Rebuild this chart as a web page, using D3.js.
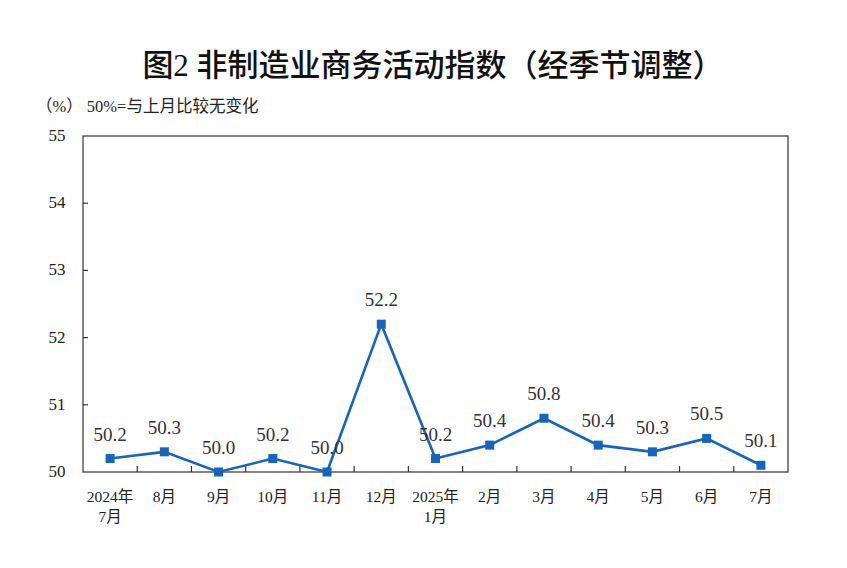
<!DOCTYPE html>
<html lang="zh">
<head>
    <meta charset="UTF-8">
    <title>非制造业商务活动指数</title>
    <script src="https://d3js.org/d3.v7.min.js"></script>
    <style>
        body { margin: 0; background: #fff; }
        .title { font-family: "Liberation Serif", "Noto Sans CJK SC", sans-serif; font-weight: 500; font-size: 31px; fill: #111; }
        .tick-label { font-family: "Liberation Serif", "Noto Sans CJK SC", serif; font-size: 15.5px; fill: #222; }
        .value { font-family: "Liberation Serif", serif; font-size: 19px; fill: #333; }
    </style>
</head>
<body>
<div id="fig"></div>
<script>
    let months = ["2024年\n7月", "8月", "9月", "10月", "11月", "12月", "2025年\n1月", "2月", "3月", "4月", "5月", "6月", "7月"]
    let values = [50.2, 50.3, 50.0, 50.2, 50.0, 52.2, 50.2, 50.4, 50.8, 50.4, 50.3, 50.5, 50.1]
    let yTicks = [50, 51, 52, 53, 54, 55]

    let w = 847, h = 568
    let margin = {left: 83, right: 59, top: 136, bottom: 96}
    let color = "#1565c0"

    let svg = d3.select("#fig").append("svg")
        .attr("width", w).attr("height", h)

    svg.append("text").attr("class", "title")
        .attr("x", 433).attr("y", 76)
        .attr("text-anchor", "middle")
        .text("图2  非制造业商务活动指数（经季节调整）")

    svg.append("text").attr("class", "tick-label")
        .attr("x", 36).attr("y", 112)
        .style("font-size", "16.5px")
        .text("（%）  50%=与上月比较无变化")

    let x = d3.scaleBand().domain(months).range([margin.left, w - margin.right])
    let y = d3.scaleLinear().domain([50, 55]).range([h - margin.bottom, margin.top])

    // frame
    svg.append("rect")
        .attr("x", margin.left).attr("y", margin.top)
        .attr("width", w - margin.left - margin.right)
        .attr("height", h - margin.top - margin.bottom)
        .attr("fill", "none").attr("stroke", "#333").attr("stroke-width", 1.2)

    // y ticks, pointing right
    svg.append("g").selectAll("line").data(yTicks.slice(1, -1)).enter().append("line")
        .attr("x1", margin.left).attr("x2", margin.left + 5)
        .attr("y1", function (d) { return y(d) }).attr("y2", function (d) { return y(d) })
        .attr("stroke", "#333").attr("stroke-width", 1.2)

    // x ticks between categories, pointing up
    let xAxis = svg.append("g")
    months.slice(1).forEach(function (m) {
        xAxis.append("line")
            .attr("x1", x(m)).attr("x2", x(m))
            .attr("y1", y(50)).attr("y2", y(50) - 6)
            .attr("stroke", "#333").attr("stroke-width", 1.2)
    })
    months.forEach(function (m) {
        let lines = m.split("\n")
        let t = xAxis.append("text").attr("class", "tick-label")
            .attr("text-anchor", "middle")
            .attr("x", x(m) + x.bandwidth() / 2)
            .attr("y", y(50) + 30)
        lines.forEach(function (s, i) {
            t.append("tspan").attr("x", x(m) + x.bandwidth() / 2)
                .attr("dy", i === 0 ? 0 : 20).text(s)
        })
    })

    // y tick labels
    svg.append("g").selectAll("text").data(yTicks).enter().append("text")
        .attr("class", "tick-label")
        .style("font-size", "17px")
        .attr("x", 57).attr("y", function (d) { return y(d) + 5 })
        .attr("text-anchor", "middle")
        .text(function (d) { return d })

    let cx = function (d, i) { return x(months[i]) + x.bandwidth() / 2 }

    svg.append("path").datum(values)
        .attr("fill", "none").attr("stroke", color).attr("stroke-width", 2.6)
        .attr("d", d3.line().x(cx).y(function (d) { return y(d) }))

    svg.selectAll(".marker").data(values).enter().append("rect")
        .attr("class", "marker")
        .attr("x", function (d, i) { return cx(d, i) - 4.5 })
        .attr("y", function (d) { return y(d) - 4.5 })
        .attr("width", 9).attr("height", 9)
        .attr("fill", color)

    svg.selectAll(".value").data(values).enter().append("text")
        .attr("class", "value")
        .attr("text-anchor", "middle")
        .attr("x", cx)
        .attr("y", function (d) { return y(d) - 18 })
        .text(function (d) { return d.toFixed(1) })
</script>
</body>
</html>
